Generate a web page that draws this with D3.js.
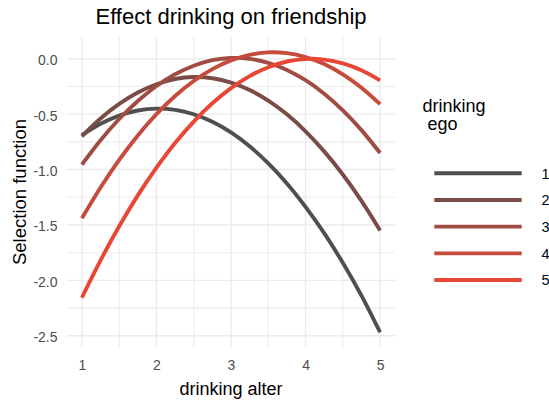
<!DOCTYPE html>
<html>
<head>
<meta charset="utf-8">
<script src="https://cdn.jsdelivr.net/npm/d3@7"></script>
<style>
  html, body { margin: 0; padding: 0; background: #ffffff; }
  svg { display: block; font-family: "Liberation Sans", Arial, sans-serif; }
</style>
</head>
<body>
<svg id="chart" width="549" height="401"></svg>
<script>
// Alter drinking levels at which the selection function is sampled
const alterLevels = [1, 1.25, 1.5, 1.75, 2, 2.25, 2.5, 2.75, 3, 3.25, 3.5, 3.75, 4, 4.25, 4.5, 4.75, 5];

// Ego drinking levels (one curve each)
const egoLevels = ["1", "2", "3", "4", "5"];

// Selection function values per ego level, aligned with alterLevels
const ego1 = [-0.690, -0.587, -0.513, -0.467, -0.450, -0.461, -0.501, -0.569, -0.665, -0.790, -0.944, -1.125, -1.336, -1.574, -1.841, -2.137, -2.468];
const ego2 = [-0.700, -0.540, -0.408, -0.305, -0.230, -0.183, -0.165, -0.176, -0.215, -0.282, -0.378, -0.502, -0.655, -0.836, -1.045, -1.283, -1.550];
const ego3 = [-0.955, -0.735, -0.544, -0.381, -0.246, -0.140, -0.063, -0.013, 0.007, -0.001, -0.037, -0.101, -0.194, -0.316, -0.466, -0.644, -0.851];
const ego4 = [-1.440, -1.162, -0.913, -0.692, -0.500, -0.336, -0.201, -0.094, -0.015, 0.035, 0.057, 0.050, 0.015, -0.048, -0.141, -0.261, -0.410];
const ego5 = [-2.155, -1.819, -1.512, -1.233, -0.982, -0.760, -0.567, -0.402, -0.265, -0.157, -0.077, -0.025, -0.002, -0.008, -0.042, -0.104, -0.195];

// Axis ticks and labels
const xTicks = [1, 2, 3, 4, 5];
const xTickLabels = ["1", "2", "3", "4", "5"];
const xMinor = [1.5, 2.5, 3.5, 4.5];
const yTicks = [-2.5, -2.0, -1.5, -1.0, -0.5, 0.0];
const yTickLabels = ["-2.5", "-2.0", "-1.5", "-1.0", "-0.5", "0.0"];
const yMinor = [-2.25, -1.75, -1.25, -0.75, -0.25];

// Line colours, grey for low ego drinking through to red for high
const lineColors = ["#4f4f4f", "#7b4c47", "#a04c43", "#c54b3d", "#e94736"];

const series = [ego1, ego2, ego3, ego4, ego5];

const svg = d3.select("#chart");
const panel = { left: 67, right: 395, top: 37, bottom: 347 };

const x = d3.scaleLinear().domain([0.8, 5.2]).range([panel.left, panel.right]);
const y = d3.scaleLinear().domain([-2.601, 0.196]).range([panel.bottom, panel.top]);

// Grid
const grid = svg.append("g");
grid.selectAll("line.ymin").data(yMinor).join("line")
  .attr("x1", panel.left).attr("x2", panel.right)
  .attr("y1", d => y(d)).attr("y2", d => y(d))
  .attr("stroke", "#ededed").attr("stroke-width", 1.1);
grid.selectAll("line.xmin").data(xMinor).join("line")
  .attr("y1", panel.top).attr("y2", panel.bottom)
  .attr("x1", d => x(d)).attr("x2", d => x(d))
  .attr("stroke", "#ededed").attr("stroke-width", 1.1);
grid.selectAll("line.ymaj").data(yTicks).join("line")
  .attr("x1", panel.left).attr("x2", panel.right)
  .attr("y1", d => y(d)).attr("y2", d => y(d))
  .attr("stroke", "#ebebeb").attr("stroke-width", 1.4);
grid.selectAll("line.xmaj").data(xTicks).join("line")
  .attr("y1", panel.top).attr("y2", panel.bottom)
  .attr("x1", d => x(d)).attr("x2", d => x(d))
  .attr("stroke", "#ebebeb").attr("stroke-width", 1.4);

// Axes (labels only, as in a minimal theme)
const xAxis = d3.axisBottom(x).tickValues(xTicks)
  .tickFormat((d, i) => xTickLabels[i]).tickSize(0).tickPadding(0);
const gx = svg.append("g").attr("transform", `translate(0,${panel.bottom + 23})`).call(xAxis);
gx.select(".domain").remove();
gx.selectAll("text").attr("fill", "#4d4d4d").attr("font-size", 14)
  .attr("font-family", "Liberation Sans, Arial, sans-serif").attr("dy", "0");

const yAxis = d3.axisLeft(y).tickValues(yTicks)
  .tickFormat((d, i) => yTickLabels[i]).tickSize(0).tickPadding(0);
const gy = svg.append("g").attr("transform", `translate(57.5,0)`).call(yAxis);
gy.select(".domain").remove();
gy.selectAll("text").attr("fill", "#4d4d4d").attr("font-size", 14)
  .attr("font-family", "Liberation Sans, Arial, sans-serif").attr("dy", "0.42em");

// Curves
const line = d3.line()
  .x((d, i) => x(alterLevels[i]))
  .y(d => y(d))
  .curve(d3.curveCatmullRom.alpha(0.5));

svg.append("g").selectAll("path").data(series).join("path")
  .attr("d", d => line(d))
  .attr("fill", "none")
  .attr("stroke", (d, i) => lineColors[i])
  .attr("stroke-width", 3.9)
  .attr("stroke-linejoin", "round")
  .attr("stroke-linecap", "butt");

// Titles
svg.append("text").attr("x", (panel.left + panel.right) / 2).attr("y", 24)
  .attr("text-anchor", "middle").attr("font-size", 22).attr("fill", "#000")
  .text("Effect drinking on friendship");

svg.append("text").attr("x", (panel.left + panel.right) / 2).attr("y", 395)
  .attr("text-anchor", "middle").attr("font-size", 18).attr("fill", "#000")
  .text("drinking alter");

svg.append("text")
  .attr("transform", `translate(26,${(panel.top + panel.bottom) / 2}) rotate(-90)`)
  .attr("text-anchor", "middle").attr("font-size", 18.5).attr("fill", "#000")
  .text("Selection function");

// Legend
const legend = svg.append("g");
const legendTitle = legend.append("text").attr("font-size", 18).attr("fill", "#000")
  .style("white-space", "pre");
legendTitle.append("tspan").attr("x", 422.5).attr("y", 111.5).text("drinking");
legendTitle.append("tspan").attr("x", 422.5).attr("y", 130).text(" ego");

const keyY = d3.scalePoint().domain(egoLevels).range([173.3, 280]);
legend.selectAll("line").data(egoLevels).join("line")
  .attr("x1", 434.3).attr("x2", 521.7)
  .attr("y1", d => keyY(d)).attr("y2", d => keyY(d))
  .attr("stroke", (d, i) => lineColors[i]).attr("stroke-width", 3.9);
legend.selectAll("text.lab").data(egoLevels).join("text").attr("class", "lab")
  .attr("x", 541.5).attr("y", d => keyY(d)).attr("dy", "0.36em")
  .attr("font-size", 14.5).attr("fill", "#000").text(d => d);
</script>
</body>
</html>
